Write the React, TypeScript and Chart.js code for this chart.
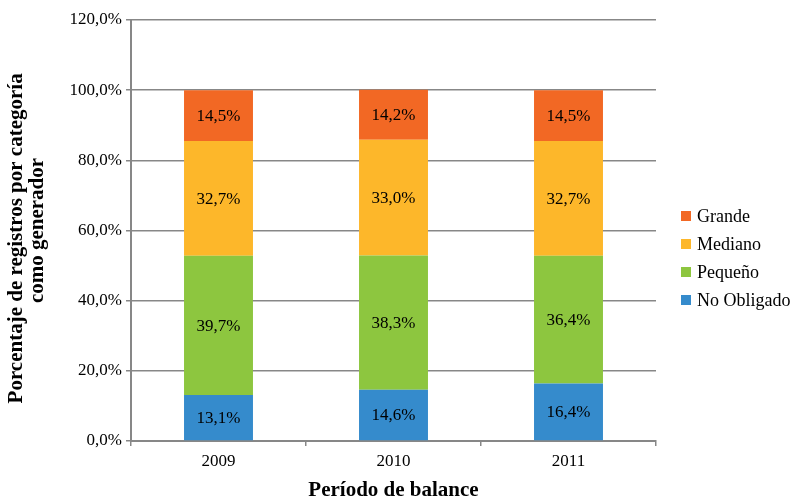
import React, { useEffect, useRef } from "react";
import { Chart, registerables } from "chart.js";

Chart.register(...registerables);

const categories = ["2009", "2010", "2011"];
const noObligado = [13.1, 14.6, 16.4];
const pequeno = [39.7, 38.3, 36.4];
const mediano = [32.7, 33.0, 32.7];
const grande = [14.5, 14.2, 14.5];

const seriesNames = ["No Obligado", "Pequeño", "Mediano", "Grande"];
const seriesColors = ["#358BCC", "#8DC63F", "#FDB72A", "#F26824"];

const FONT = "'Liberation Serif', 'Times New Roman', Times, serif";

const fmt = (v: number) => v.toFixed(1).replace(".", ",") + "%";

const labelsPlugin = {
  id: "segLabels",
  afterDatasetsDraw(chart: any) {
    const ctx = chart.ctx;
    ctx.save();
    ctx.font = `17px ${FONT}`;
    ctx.fillStyle = "#000";
    ctx.textAlign = "center";
    ctx.textBaseline = "middle";
    chart.data.datasets.forEach((ds: any, i: number) => {
      const meta = chart.getDatasetMeta(i);
      meta.data.forEach((el: any, j: number) => {
        const y = (el.y + el.base) / 2;
        ctx.fillText(fmt(ds.data[j]), el.x, y + 1);
      });
    });
    ctx.restore();
  },
};

const legendPlugin = {
  id: "customLegend",
  afterDraw(chart: any) {
    const ctx = chart.ctx;
    ctx.save();
    ctx.font = `18px ${FONT}`;
    ctx.textAlign = "left";
    ctx.textBaseline = "middle";
    const ds = chart.data.datasets;
    const n = ds.length;
    for (let k = 0; k < n; k++) {
      const d = ds[n - 1 - k];
      const cy = 216 + k * 28;
      ctx.fillStyle = d.backgroundColor;
      ctx.fillRect(681, cy - 5, 10, 10);
      ctx.fillStyle = "#000";
      ctx.fillText(d.label, 697, cy + 1);
    }
    ctx.restore();
  },
};

export default function App() {
  const ref = useRef<HTMLCanvasElement>(null);
  useEffect(() => {
    document.body.style.margin = "0";
    const values = [noObligado, pequeno, mediano, grande];
    const chart = new Chart(ref.current!, {
      type: "bar",
      data: {
        labels: categories,
        datasets: values.map((v, i) => ({
          label: seriesNames[i],
          data: v,
          backgroundColor: seriesColors[i],
          borderWidth: 0,
          categoryPercentage: 1,
          barPercentage: 0.394,
        })),
      },
      options: {
        responsive: false,
        animation: false,
        devicePixelRatio: 1,
        layout: { padding: { top: 20, right: 137, left: 0, bottom: 0 } },
        plugins: { legend: { display: false }, tooltip: { enabled: false } },
        scales: {
          x: {
            stacked: true,
            offset: true,
            grid: {
              offset: true,
              drawOnChartArea: false,
              drawTicks: true,
              tickLength: 5,
              color: "#878787",
              lineWidth: 1.5,
            },
            border: { color: "#878787", width: 2 },
            ticks: { color: "#000", font: { family: FONT, size: 17 }, padding: 5 },
            title: {
              display: true,
              text: "Período de balance",
              color: "#000",
              font: { family: FONT, size: 21, weight: "bold", lineHeight: 1.0 },
              padding: { top: 0, bottom: 0 },
            },
            afterFit: (s: any) => {
              s.height = 60;
            },
          },
          y: {
            stacked: true,
            min: 0,
            max: 120,
            ticks: {
              stepSize: 20,
              color: "#000",
              font: { family: FONT, size: 17 },
              padding: 4,
              callback: (v: any) => fmt(Number(v)),
            },
            grid: { color: "#878787", lineWidth: 1.5, tickLength: 5, drawTicks: true },
            border: { color: "#878787", width: 2 },
            title: {
              display: true,
              text: ["Porcentaje de registros por categoría   ", "como generador"],
              color: "#000",
              font: { family: FONT, size: 21, weight: "bold", lineHeight: 1.0 },
              padding: { top: 6, bottom: 0 },
            },
            afterFit: (s: any) => {
              s.width = 131;
            },
          },
        },
      },
      plugins: [labelsPlugin, legendPlugin],
    });
    return () => chart.destroy();
  }, []);
  return <canvas ref={ref} width={793} height={501} style={{ display: "block" }} />;
}
